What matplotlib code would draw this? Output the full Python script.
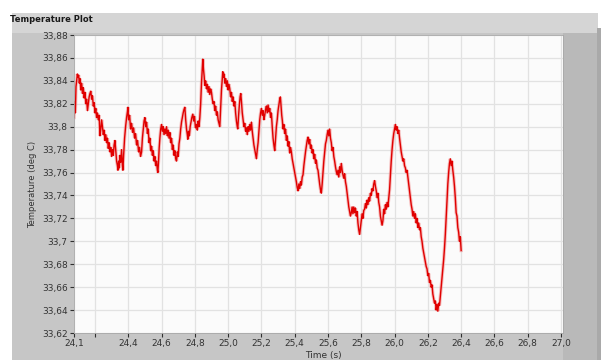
import matplotlib
matplotlib.use('Agg')
import matplotlib.pyplot as plt
from matplotlib.patches import Rectangle

# temperature trace, time in s and temperature in deg C
time_s = [
    24.074, 24.078, 24.082, 24.086, 24.090, 24.094, 24.098, 24.102, 24.106, 24.110,
    24.115, 24.120, 24.125, 24.130, 24.135, 24.140, 24.145, 24.150, 24.155, 24.160,
    24.165, 24.170, 24.175, 24.180, 24.185, 24.190, 24.195, 24.200, 24.205, 24.210,
    24.215, 24.220, 24.225, 24.230, 24.235, 24.240, 24.245, 24.250, 24.255, 24.260,
    24.265, 24.270, 24.275, 24.280, 24.285, 24.290, 24.295, 24.300, 24.305, 24.310,
    24.315, 24.320, 24.325, 24.330, 24.335, 24.338, 24.342, 24.346, 24.350, 24.355,
    24.360, 24.365, 24.368, 24.372, 24.378, 24.384, 24.390, 24.395, 24.398, 24.402,
    24.408, 24.414, 24.420, 24.426, 24.432, 24.438, 24.444, 24.450, 24.456, 24.462,
    24.468, 24.474, 24.480, 24.485, 24.490, 24.495, 24.500, 24.505, 24.510, 24.515,
    24.520, 24.525, 24.530, 24.535, 24.540, 24.545, 24.550, 24.555, 24.560, 24.565,
    24.570, 24.575, 24.578, 24.582, 24.586, 24.590, 24.595, 24.600, 24.605, 24.610,
    24.615, 24.620, 24.625, 24.630, 24.635, 24.640, 24.645, 24.650, 24.655, 24.660,
    24.665, 24.670, 24.675, 24.680, 24.685, 24.690, 24.695, 24.700, 24.705, 24.710,
    24.715, 24.720, 24.725, 24.730, 24.735, 24.740, 24.745, 24.750, 24.755, 24.758,
    24.762, 24.767, 24.772, 24.777, 24.782, 24.788, 24.793, 24.798, 24.804, 24.810,
    24.815, 24.820, 24.825, 24.830, 24.835, 24.840, 24.845, 24.848, 24.852, 24.856,
    24.860, 24.865, 24.870, 24.875, 24.880, 24.885, 24.890, 24.895, 24.900, 24.905,
    24.910, 24.915, 24.920, 24.925, 24.930, 24.935, 24.940, 24.945, 24.950, 24.955,
    24.960, 24.965, 24.968, 24.972, 24.976, 24.980, 24.985, 24.990, 24.995, 25.000,
    25.005, 25.010, 25.015, 25.020, 25.025, 25.030, 25.035, 25.040, 25.045, 25.050,
    25.055, 25.058, 25.062, 25.067, 25.072, 25.076, 25.080, 25.085, 25.090, 25.095,
    25.100, 25.105, 25.110, 25.115, 25.120, 25.125, 25.130, 25.135, 25.140, 25.145,
    25.150, 25.155, 25.160, 25.165, 25.170, 25.175, 25.180, 25.185, 25.190, 25.195,
    25.200, 25.205, 25.210, 25.215, 25.220, 25.225, 25.230, 25.235, 25.240, 25.245,
    25.250, 25.255, 25.260, 25.265, 25.270, 25.275, 25.280, 25.285, 25.290, 25.295,
    25.300, 25.305, 25.310, 25.314, 25.318, 25.322, 25.326, 25.330, 25.335, 25.340,
    25.345, 25.350, 25.355, 25.360, 25.365, 25.370, 25.375, 25.380, 25.385, 25.390,
    25.395, 25.400, 25.405, 25.410, 25.415, 25.420, 25.425, 25.430, 25.435, 25.440,
    25.445, 25.450, 25.455, 25.460, 25.465, 25.470, 25.475, 25.480, 25.485, 25.490,
    25.495, 25.500, 25.505, 25.510, 25.515, 25.520, 25.525, 25.530, 25.535, 25.540,
    25.545, 25.550, 25.555, 25.560, 25.565, 25.570, 25.575, 25.580, 25.585, 25.590,
    25.595, 25.600, 25.605, 25.610, 25.615, 25.620, 25.625, 25.630, 25.635, 25.640,
    25.645, 25.650, 25.655, 25.660, 25.665, 25.670, 25.675, 25.680, 25.685, 25.690,
    25.695, 25.700, 25.705, 25.710, 25.715, 25.720, 25.725, 25.730, 25.735, 25.740,
    25.745, 25.750, 25.755, 25.760, 25.765, 25.770, 25.775, 25.780, 25.785, 25.790,
    25.795, 25.800, 25.805, 25.810, 25.815, 25.820, 25.825, 25.830, 25.835, 25.840,
    25.845, 25.850, 25.855, 25.860, 25.865, 25.870, 25.875, 25.880, 25.885, 25.890,
    25.895, 25.900, 25.905, 25.910, 25.915, 25.920, 25.925, 25.930, 25.935, 25.940,
    25.945, 25.950, 25.955, 25.960, 25.965, 25.970, 25.975, 25.980, 25.985, 25.990,
    25.995, 26.000, 26.005, 26.010, 26.015, 26.020, 26.025, 26.030, 26.035, 26.040,
    26.045, 26.050, 26.055, 26.060, 26.065, 26.070, 26.075, 26.080, 26.085, 26.090,
    26.095, 26.100, 26.105, 26.110, 26.115, 26.120, 26.125, 26.130, 26.135, 26.140,
    26.145, 26.150, 26.155, 26.160, 26.165, 26.170, 26.175, 26.180, 26.185, 26.190,
    26.195, 26.200, 26.205, 26.210, 26.215, 26.220, 26.225, 26.230, 26.235, 26.240,
    26.245, 26.250, 26.255, 26.260, 26.265, 26.270, 26.275, 26.280, 26.285, 26.290,
    26.295, 26.300, 26.305, 26.310, 26.315, 26.320, 26.325, 26.330, 26.335, 26.340,
    26.345, 26.350, 26.355, 26.360, 26.365, 26.370, 26.375, 26.380, 26.385, 26.390,
    26.395, 26.400,
]
temp_c = [
    33.808, 33.822, 33.812, 33.835, 33.840, 33.846, 33.843, 33.845, 33.838, 33.842,
    33.832, 33.838, 33.829, 33.834, 33.825, 33.830, 33.820, 33.824, 33.814, 33.820,
    33.826, 33.829, 33.831, 33.824, 33.827, 33.818, 33.821, 33.812, 33.816, 33.808,
    33.812, 33.806, 33.810, 33.792, 33.798, 33.806, 33.800, 33.793, 33.797, 33.788,
    33.793, 33.786, 33.790, 33.781, 33.786, 33.778, 33.782, 33.774, 33.780, 33.775,
    33.784, 33.788, 33.779, 33.770, 33.766, 33.762, 33.770, 33.764, 33.775, 33.769,
    33.780, 33.766, 33.762, 33.775, 33.790, 33.800, 33.808, 33.813, 33.817, 33.806,
    33.810, 33.798, 33.803, 33.795, 33.799, 33.790, 33.794, 33.784, 33.788, 33.778,
    33.782, 33.774, 33.778, 33.790, 33.798, 33.805, 33.808, 33.800, 33.804, 33.794,
    33.798, 33.786, 33.790, 33.779, 33.783, 33.775, 33.779, 33.770, 33.774, 33.766,
    33.770, 33.762, 33.760, 33.770, 33.782, 33.790, 33.798, 33.802, 33.796, 33.800,
    33.793, 33.798, 33.794, 33.800, 33.792, 33.797, 33.790, 33.795, 33.786, 33.790,
    33.780, 33.784, 33.775, 33.779, 33.772, 33.770, 33.778, 33.774, 33.785, 33.790,
    33.798, 33.804, 33.808, 33.812, 33.815, 33.817, 33.806, 33.798, 33.793, 33.789,
    33.796, 33.792, 33.800, 33.804, 33.808, 33.811, 33.805, 33.809, 33.799, 33.802,
    33.797, 33.805, 33.800, 33.808, 33.820, 33.838, 33.852, 33.859, 33.850, 33.844,
    33.836, 33.840, 33.833, 33.837, 33.830, 33.835, 33.828, 33.833, 33.830, 33.824,
    33.820, 33.822, 33.814, 33.818, 33.810, 33.813, 33.806, 33.803, 33.800, 33.815,
    33.832, 33.842, 33.848, 33.843, 33.846, 33.838, 33.842, 33.835, 33.840, 33.832,
    33.837, 33.833, 33.826, 33.830, 33.822, 33.826, 33.818, 33.822, 33.812, 33.805,
    33.800, 33.798, 33.808, 33.818, 33.826, 33.829, 33.822, 33.812, 33.806, 33.800,
    33.803, 33.796, 33.799, 33.793, 33.800, 33.796, 33.802, 33.797, 33.804, 33.796,
    33.790, 33.784, 33.780, 33.776, 33.772, 33.780, 33.786, 33.796, 33.806, 33.812,
    33.816, 33.810, 33.814, 33.806, 33.810, 33.815, 33.818, 33.812, 33.819, 33.813,
    33.816, 33.808, 33.812, 33.800, 33.790, 33.784, 33.779, 33.790, 33.800, 33.806,
    33.814, 33.819, 33.824, 33.826, 33.818, 33.810, 33.805, 33.798, 33.802, 33.794,
    33.798, 33.788, 33.792, 33.783, 33.787, 33.777, 33.782, 33.778, 33.772, 33.768,
    33.764, 33.760, 33.756, 33.752, 33.747, 33.744, 33.750, 33.746, 33.752, 33.749,
    33.756, 33.758, 33.766, 33.772, 33.778, 33.783, 33.788, 33.791, 33.785, 33.789,
    33.781, 33.784, 33.777, 33.780, 33.772, 33.776, 33.768, 33.771, 33.764, 33.762,
    33.756, 33.750, 33.745, 33.742, 33.750, 33.760, 33.770, 33.778, 33.785, 33.788,
    33.793, 33.797, 33.792, 33.798, 33.790, 33.786, 33.779, 33.782, 33.774, 33.770,
    33.765, 33.761, 33.758, 33.762, 33.756, 33.765, 33.760, 33.768, 33.762, 33.758,
    33.755, 33.759, 33.752, 33.748, 33.742, 33.736, 33.730, 33.726, 33.722, 33.725,
    33.730, 33.724, 33.730, 33.725, 33.729, 33.722, 33.726, 33.716, 33.710, 33.706,
    33.712, 33.718, 33.724, 33.720, 33.727, 33.728, 33.733, 33.729, 33.736, 33.732,
    33.738, 33.735, 33.742, 33.740, 33.746, 33.744, 33.750, 33.753, 33.748, 33.744,
    33.738, 33.742, 33.734, 33.730, 33.722, 33.718, 33.714, 33.718, 33.728, 33.724,
    33.732, 33.728, 33.734, 33.730, 33.738, 33.745, 33.758, 33.770, 33.780, 33.788,
    33.794, 33.798, 33.802, 33.797, 33.800, 33.794, 33.797, 33.790, 33.784, 33.778,
    33.774, 33.770, 33.772, 33.766, 33.764, 33.760, 33.762, 33.756, 33.750, 33.744,
    33.738, 33.732, 33.728, 33.722, 33.726, 33.720, 33.724, 33.716, 33.720, 33.712,
    33.716, 33.710, 33.712, 33.704, 33.700, 33.694, 33.690, 33.686, 33.682, 33.678,
    33.676, 33.670, 33.672, 33.664, 33.666, 33.660, 33.662, 33.654, 33.650, 33.646,
    33.648, 33.640, 33.645, 33.639, 33.646, 33.644, 33.652, 33.660, 33.668, 33.676,
    33.684, 33.694, 33.706, 33.720, 33.735, 33.750, 33.760, 33.768, 33.772, 33.766,
    33.770, 33.762, 33.756, 33.748, 33.738, 33.725, 33.722, 33.712, 33.708, 33.700,
    33.704, 33.692,
]

# axis scales
x_min, x_max = 24.074, 27.012
x_ticks = [24.2, 24.4, 24.6, 24.8, 25.0, 25.2, 25.4, 25.6, 25.8, 26.0, 26.2, 26.4, 26.6, 26.8, 27.0]
y_ticks = [33.62, 33.64, 33.66, 33.68, 33.70, 33.72, 33.74, 33.76, 33.78, 33.80, 33.82, 33.84, 33.86, 33.88]


def comma(v, digits):
    s = ('%.' + str(digits) + 'f') % v
    if '.' in s:
        s = s.rstrip('0').rstrip('.') if digits > 1 else s
    return s.replace('.', ',')


W, H = 601, 360
fig = plt.figure(figsize=(W / 100, H / 100), dpi=100, facecolor='white')


def box(x0, y0, x1, y1, color):
    # rectangle in pixel units, origin top-left
    fig.add_artist(Rectangle((x0 / W, 1 - y1 / H), (x1 - x0) / W, (y1 - y0) / H,
                             transform=fig.transFigure, facecolor=color,
                             edgecolor='none', zorder=-10))


box(12, 13, 598, 33, '#d5d5d5')   # title bar
box(12, 33, 598, 360, '#c6c6c6')  # chart frame
box(563, 33, 597, 360, '#b9b9b9')  # right strip
box(597, 28, 601, 360, '#a9a9a9')

fig.text(10 / W, 1 - 20 / H, 'Temperature Plot', fontsize=6, fontweight='bold',
         color='#1a1a1a', va='center', ha='left')

ax = fig.add_axes([74 / W, 1 - 333 / H, (563 - 74) / W, (333 - 35) / H])
ax.set_facecolor('#fbfbfb')
ax.plot(time_s, temp_c, color='#f08080', lw=2.4, alpha=0.5, solid_joinstyle='miter')
ax.plot(time_s, temp_c, color='#e00000', lw=1.0)

ax.set_xlim(x_min, x_max)
ax.set_ylim(y_ticks[0], y_ticks[-1])

xt = [x_min] + x_ticks
xl = [comma(x_min, 1), ''] + [('%.1f' % v).replace('.', ',') for v in x_ticks[1:]]
ax.set_xticks(xt)
ax.set_xticklabels(xl)
ax.set_yticks(y_ticks)
ax.set_yticklabels([comma(v, 2) for v in y_ticks])

ax.grid(True, color='#e2e2e2', lw=0.9)
ax.set_axisbelow(True)
ax.tick_params(axis='both', length=3, width=0.8, color='#303030', labelsize=6.5,
               labelcolor='#333333', pad=1.5)
for s in ax.spines.values():
    s.set_color('#a8a8a8')
    s.set_linewidth(0.6)

fig.text(33 / W, 1 - 184 / H, 'Temperature (deg C)', rotation=90, fontsize=6,
         color='#333333', ha='center', va='center')
fig.text(323 / W, 1 - 351 / H, 'Time (s)', fontsize=6.5, color='#333333',
         ha='center', va='top')

fig.savefig('out.png', dpi=100, facecolor='white')
